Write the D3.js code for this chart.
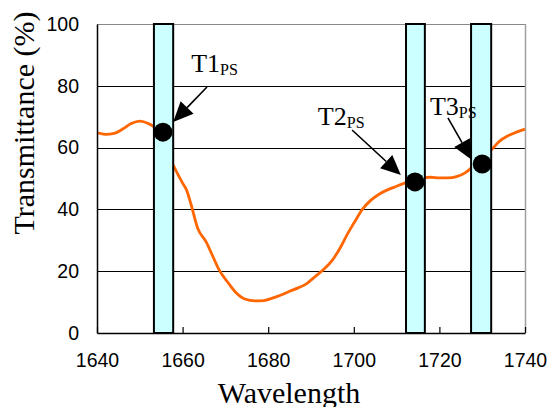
<!DOCTYPE html>
<html>
<head>
<meta charset="utf-8">
<script src="https://cdn.jsdelivr.net/npm/d3@7"></script>
<style>
  html, body { margin: 0; padding: 0; background: #fff; }
  svg { display: block; }
</style>
</head>
<body>
<svg id="chart" width="558" height="407"></svg>
<script>
// ---- data ----
const wavelength = [1640, 1642, 1644, 1646, 1648, 1650, 1652, 1653, 1655, 1656.5, 1658, 1660, 1661, 1662, 1663.5, 1665.5, 1667, 1668.5, 1670.5, 1672.5, 1674.5, 1677, 1679, 1681, 1683, 1685, 1687, 1689, 1691, 1693, 1695, 1697, 1698.5, 1700, 1702, 1704, 1706, 1708, 1710, 1712, 1714, 1716, 1718, 1720, 1722, 1724, 1726, 1727.5, 1729, 1731, 1732.5, 1734, 1736, 1738, 1740];
const transmittance = [64.8, 64.3, 64.6, 66.0, 67.8, 68.6, 67.8, 67.0, 64, 58, 53.8, 48.5, 46, 41.5, 34, 29.5, 25, 20.5, 16.5, 13, 11, 10.4, 10.5, 11.3, 12.3, 13.5, 14.6, 16, 18.3, 20.6, 23.6, 28, 32, 35.5, 40, 43, 45, 46.4, 47.5, 48.6, 49.5, 50.2, 50.4, 50.2, 50.2, 50.6, 51.8, 53.5, 55.5, 57.5, 59.8, 62, 63.8, 65, 66];

const bandStart = [1653.3, 1712.2, 1727.4];
const bandEnd   = [1657.8, 1716.6, 1732.1];

const pointNames = ["T1", "T2", "T3"];
const pointX = [1655.4, 1714.3, 1730.0];
const pointY = [65.0, 48.9, 54.7];

// label anchor (data units) and arrow start/tip (data units)
const labelX = [1662.0, 1691.6, 1717.8];
const labelY = [84.5, 67.3, 70.6];
const arrowFromX = [1665.7, 1699.6, 1722.0];
const arrowFromY = [79.6, 65.7, 69.6];
const arrowToX = [1657.8, 1711.0, 1727.6];
const arrowToY = [68.3, 51.1, 56.0];

const xTicks = [1640, 1660, 1680, 1700, 1720, 1740];
const yTicks = [0, 20, 40, 60, 80, 100];

// ---- chart ----
const svg = d3.select("#chart");
const x = d3.scaleLinear().domain([1640, 1740]).range([97, 525]);
const y = d3.scaleLinear().domain([0, 100]).range([333, 24]);

const sans = "'Liberation Sans', Arial, sans-serif";
const serif = "'Liberation Serif', 'Times New Roman', serif";

// gridlines
svg.append("g").selectAll("line").data(yTicks.filter(d => d > 0 && d < 100)).join("line")
  .attr("x1", x(1640)).attr("x2", x(1740))
  .attr("y1", d => Math.round(y(d)) + 0.5).attr("y2", d => Math.round(y(d)) + 0.5)
  .attr("stroke", "#000").attr("stroke-width", 1);

// top & right border (gray)
svg.append("line").attr("x1", x(1640)).attr("x2", x(1740))
  .attr("y1", Math.round(y(100)) + 0.5).attr("y2", Math.round(y(100)) + 0.5)
  .attr("stroke", "#8a8a8a").attr("stroke-width", 1);
svg.append("line").attr("x1", Math.round(x(1740)) + 0.5).attr("x2", Math.round(x(1740)) + 0.5)
  .attr("y1", y(100)).attr("y2", y(0))
  .attr("stroke", "#a0a0a0").attr("stroke-width", 1.5);

// curve
const line = d3.line().x(d => x(d[0])).y(d => y(d[1])).curve(d3.curveMonotoneX);
svg.append("path")
  .datum(wavelength.map((w, i) => [w, transmittance[i]]))
  .attr("d", line)
  .attr("fill", "none").attr("stroke", "#ff6600").attr("stroke-width", 2.8)
  .attr("stroke-linejoin", "round");

// axes
const xAxis = d3.axisBottom(x).tickValues(xTicks).tickSize(-6).tickSizeOuter(0).tickPadding(14)
  .tickFormat(d3.format("d"));
const gx = svg.append("g").attr("transform", `translate(0,${y(0)})`).call(xAxis);
gx.select(".domain").attr("stroke", "#000").attr("stroke-width", 1.5);
gx.selectAll(".tick line").attr("stroke", "#000").attr("stroke-width", 1.2);
gx.selectAll(".tick text").attr("font-family", sans).attr("font-size", 19.5).attr("fill", "#000")
  .attr("dy", "0.71em").attr("y", 20);

const yAxis = d3.axisLeft(y).tickValues(yTicks).tickSize(0).tickSizeOuter(0).tickPadding(18);
const gy = svg.append("g").attr("transform", `translate(${x(1640)},0)`).call(yAxis);
gy.select(".domain").attr("stroke", "#000").attr("stroke-width", 1.5);
gy.selectAll(".tick text").attr("font-family", sans).attr("font-size", 19.5).attr("fill", "#000");

// bands
svg.append("g").selectAll("rect").data(bandStart).join("rect")
  .attr("x", (d) => x(d))
  .attr("width", (d, i) => x(bandEnd[i]) - x(d))
  .attr("y", y(100)).attr("height", y(0) - y(100))
  .attr("fill", "#ccffff").attr("stroke", "#000").attr("stroke-width", 2);

// points
svg.append("g").selectAll("circle").data(pointX).join("circle")
  .attr("cx", d => x(d)).attr("cy", (d, i) => y(pointY[i])).attr("r", 9.5)
  .attr("fill", "#000");

// arrows
const arrows = svg.append("g");
pointNames.forEach((n, i) => {
  const x1 = x(arrowFromX[i]), y1 = y(arrowFromY[i]);
  const x2 = x(arrowToX[i]), y2 = y(arrowToY[i]);
  const ang = Math.atan2(y2 - y1, x2 - x1);
  const L = 20, W = 9;
  const bx = x2 - L * Math.cos(ang), by = y2 - L * Math.sin(ang);
  arrows.append("line").attr("x1", x1).attr("y1", y1).attr("x2", bx).attr("y2", by)
    .attr("stroke", "#000").attr("stroke-width", 1.6);
  const px = -Math.sin(ang), py = Math.cos(ang);
  arrows.append("path")
    .attr("d", `M${x2},${y2}L${bx + W * px},${by + W * py}L${bx - W * px},${by - W * py}Z`)
    .attr("fill", "#000");
});

// labels
const lab = svg.append("g").selectAll("text").data(pointNames).join("text")
  .attr("x", (d, i) => x(labelX[i])).attr("y", (d, i) => y(labelY[i]))
  .attr("font-family", serif).attr("font-size", 26).attr("fill", "#000");
lab.append("tspan").text(d => d.replace("T", "T"));
lab.append("tspan").attr("font-size", 16).attr("dy", 3).text("PS");

// axis titles
svg.append("text")
  .attr("transform", `translate(34,123) rotate(-90)`)
  .attr("text-anchor", "middle")
  .attr("font-family", serif).attr("font-size", 30).attr("fill", "#000")
  .text("Transmittance (%)");
svg.append("text")
  .attr("x", 289).attr("y", 403)
  .attr("text-anchor", "middle")
  .attr("font-family", serif).attr("font-size", 30).attr("fill", "#000")
  .text("Wavelength");
</script>
</body>
</html>
